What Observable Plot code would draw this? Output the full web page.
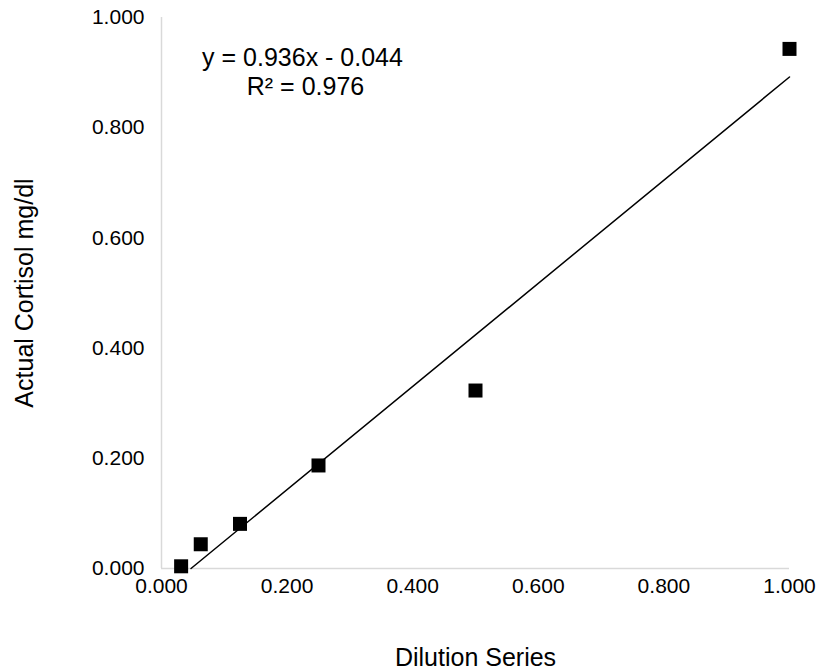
<!DOCTYPE html>
<html>
<head>
<meta charset="utf-8">
<script src="https://cdn.jsdelivr.net/npm/d3@7"></script>
<script src="https://cdn.jsdelivr.net/npm/@observablehq/plot@0.6"></script>
<style>
  body { margin: 0; background: #fff; }
  #chart svg { display: block; }
</style>
</head>
<body>
<div id="chart"></div>
<script>
const dilution = [0.03125, 0.0625, 0.125, 0.25, 0.5, 1.0];
const cortisol = [0.004, 0.044, 0.081, 0.187, 0.323, 0.943];
const xTicks = [0, 0.2, 0.4, 0.6, 0.8, 1.0];
const yTicks = [0, 0.2, 0.4, 0.6, 0.8, 1.0];
const slope = [0.936];
const intercept = [-0.044];
const rSquared = [0.976];
const xTitle = ["Dilution Series"];
const yTitle = ["Actual Cortisol mg/dl"];

const points = dilution.map((x, i) => ({x, y: cortisol[i]}));
const xStart = -intercept[0] / slope[0];
const trend = [xStart, 1.0].map(x => ({x, y: slope[0] * x + intercept[0]}));
const fmt = d3.format(".3f");
const eqLines = [
  `y = ${slope[0].toFixed(3)}x - ${Math.abs(intercept[0]).toFixed(3)}`,
  `R² = ${rSquared[0].toFixed(3)}`
];

const chart = Plot.plot({
  width: 818,
  height: 671,
  marginLeft: 161,
  marginRight: 29,
  marginTop: 17,
  marginBottom: 103,
  style: {fontFamily: "'Liberation Sans', Arial, sans-serif", fontSize: "20px", color: "#000", background: "#fff"},
  x: {domain: [0, 1]},
  y: {domain: [0, 1]},
  marks: [
    Plot.ruleX([0], {stroke: "#d9d9d9", strokeWidth: 1.5}),
    Plot.ruleY([0], {stroke: "#d9d9d9", strokeWidth: 1.5}),
    Plot.axisX({ticks: xTicks, tickFormat: fmt, tickSize: 0, tickPadding: 10, fontSize: 21, fill: "#000", label: null}),
    Plot.axisY({ticks: yTicks, tickFormat: fmt, tickSize: 0, tickPadding: 17, fontSize: 21, fill: "#000", label: null}),
    Plot.text(xTitle, {text: d => d, frameAnchor: "bottom", dy: 97, lineAnchor: "bottom", textAnchor: "middle", fontSize: 25, fill: "#000"}),
    Plot.text(yTitle, {text: d => d, frameAnchor: "left", dx: -137, rotate: -90, lineAnchor: "middle", textAnchor: "middle", fontSize: 25, fill: "#000"}),
    Plot.line(trend, {x: "x", y: "y", stroke: "#000", strokeWidth: 1.5}),
    Plot.dot(points, {x: "x", y: "y", symbol: "square", r: 7.9, fill: "#000", stroke: "none"}),
    Plot.text([eqLines[0]], {text: d => d, frameAnchor: "top-left", dx: 141, dy: 40, lineAnchor: "middle", fontSize: 25, textAnchor: "middle", fill: "#000"}),
    Plot.text([eqLines[1]], {text: d => d, frameAnchor: "top-left", dx: 144, dy: 69, lineAnchor: "middle", fontSize: 25, textAnchor: "middle", fill: "#000"})
  ]
});
document.getElementById("chart").appendChild(chart);
</script>
</body>
</html>
